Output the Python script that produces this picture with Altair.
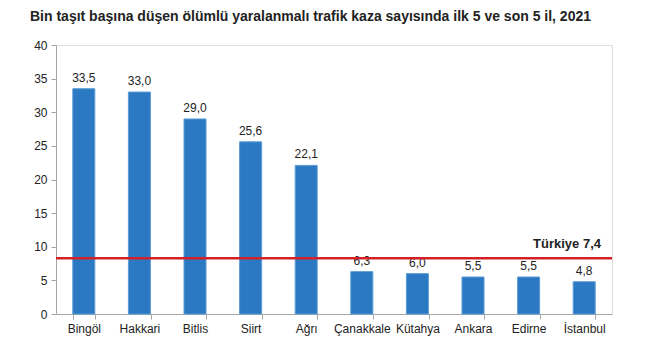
import altair as alt
import pandas as pd

provinces = ["Bingöl", "Hakkari", "Bitlis", "Siirt", "Ağrı", "Çanakkale", "Kütahya", "Ankara", "Edirne", "İstanbul"]
values = [33.5, 33.0, 29.0, 25.6, 22.1, 6.3, 6.0, 5.5, 5.5, 4.8]
labels = ["33,5", "33,0", "29,0", "25,6", "22,1", "6,3", "6,0", "5,5", "5,5", "4,8"]
turkiye_line = [8.3]
turkiye_label = ["Türkiye 7,4"]
y_ticks = [0, 5, 10, 15, 20, 25, 30, 35, 40]

df = pd.DataFrame({"il": provinces, "deger": values, "etiket": labels})
ref = pd.DataFrame({"deger": turkiye_line, "t": turkiye_label})

FONT = "Liberation Sans"

x_enc = alt.X("il:N", sort=provinces, title=None,
              scale=alt.Scale(paddingInner=0.6, paddingOuter=0.3),
              axis=alt.Axis(labelAngle=0, labelFontSize=12, labelColor="#222222", labelFont=FONT,
                            domainColor="#a6a6a6", tickColor="#a6a6a6", tickBand="extent",
                            tickSize=5, labelPadding=4, labelOverlap=False))
y_enc = alt.Y("deger:Q", title=None,
              scale=alt.Scale(domain=[0, 40], nice=False),
              axis=alt.Axis(values=y_ticks, grid=False, labelFontSize=12, labelColor="#222222",
                            labelFont=FONT, domainColor="#a6a6a6", tickColor="#a6a6a6",
                            tickSize=5, labelPadding=4, labelOverlap=False))

base = alt.Chart(df)

bars = base.mark_bar(color="#2a79c2", stroke="#5b9bd5", strokeWidth=1, width=22).encode(x=x_enc, y=y_enc)

text = base.mark_text(dy=-11, fontSize=12, font=FONT, color="#222222").encode(
    x=alt.X("il:N", sort=provinces), y=y_enc, text="etiket:N")

rule = alt.Chart(ref).mark_rule(color="#d42027", strokeWidth=2.5).encode(y=y_enc)

rule_text = alt.Chart(ref).mark_text(align="right", baseline="bottom", dy=-7, fontSize=13,
                                     fontWeight="bold", font=FONT, color="#222222").encode(
    y=y_enc, x=alt.value(545), text="t:N")

chart = (bars + text + rule + rule_text).properties(
    width=556, height=269,
    title=alt.TitleParams("Bin taşıt başına düşen ölümlü yaralanmalı trafik kaza sayısında ilk 5 ve son 5 il, 2021",
                          anchor="start", frame="group", dx=-26, offset=15, fontSize=14, fontWeight="bold",
                          font=FONT, color="#222222"),
    padding={"left": 56, "top": 45, "right": 43, "bottom": 39},
    autosize="none",
).configure_view(stroke=None).configure(background="white")

chart.save("out.html", embed_options={"renderer": "svg", "actions": False})
